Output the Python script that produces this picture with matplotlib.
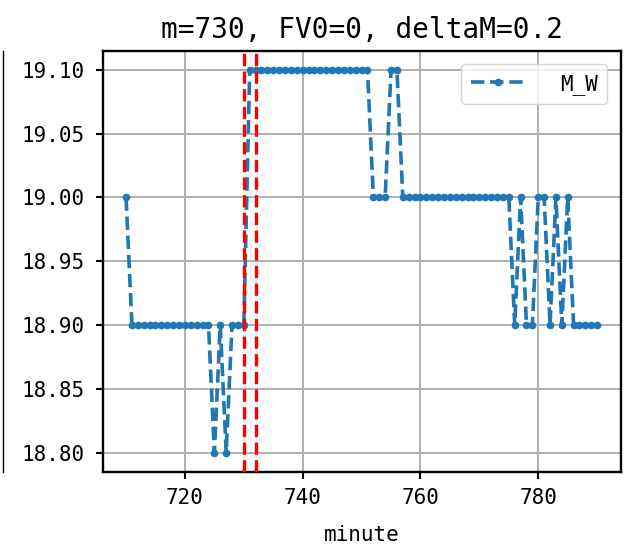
import matplotlib
matplotlib.use("Agg")
import matplotlib.pyplot as plt
from matplotlib.lines import Line2D

plt.rcParams['font.family'] = ['DejaVu Sans Mono', 'DejaVu Sans']

# ---- data ----
minute = list(range(710, 791))
m_w = [19.00,
       18.90, 18.90, 18.90, 18.90, 18.90, 18.90, 18.90, 18.90, 18.90, 18.90, 18.90, 18.90, 18.90, 18.90,
       18.80, 18.90, 18.80, 18.90, 18.90, 18.90,
       19.10, 19.10, 19.10, 19.10, 19.10, 19.10, 19.10, 19.10, 19.10, 19.10, 19.10,
       19.10, 19.10, 19.10, 19.10, 19.10, 19.10, 19.10, 19.10, 19.10, 19.10,
       19.00, 19.00, 19.00,
       19.10, 19.10,
       19.00, 19.00, 19.00, 19.00, 19.00, 19.00, 19.00, 19.00, 19.00, 19.00,
       19.00, 19.00, 19.00, 19.00, 19.00, 19.00, 19.00, 19.00, 19.00,
       18.90, 19.00, 18.90, 18.90, 19.00, 19.00, 18.90, 19.00, 18.90, 19.00,
       18.90, 18.90, 18.90, 18.90, 18.90]
vlines = [730, 732]
xticks = [720, 740, 760, 780]
yticks = [18.80, 18.85, 18.90, 18.95, 19.00, 19.05, 19.10]
ytick_labels = ["18.80", "18.85", "18.90", "18.95", "19.00", "19.05", "19.10"]
title = "m=730, FV0=0, deltaM=0.2"
xlabel = "minute"
series_label = "M_W"

# ---- figure ----
W, H = 627, 553
fig = plt.figure(figsize=(W / 100, H / 100), dpi=100)
left, right, top, bottom = 102.5, 620.7, 50.7, 471.7
ax = fig.add_axes([left / W, 1 - bottom / H, (right - left) / W, (bottom - top) / H])

ax.plot(minute, m_w, linestyle='--', marker='o', markersize=4.5,
        linewidth=2.6, color='#1f77b4', label=series_label, zorder=3)
for v in vlines:
    ax.axvline(v, color='red', linestyle='--', linewidth=2.4, zorder=4)

ax.set_xticks(xticks)
ax.set_yticks(yticks)
ax.set_yticklabels(ytick_labels)
ax.grid(True, color='#b0b0b0', linewidth=1.4)
ax.set_axisbelow(True)

ax.tick_params(axis='both', labelsize=15, length=5, width=1.5, color='black')
ax.tick_params(axis='y', pad=8)
ax.tick_params(axis='x', pad=7)
for s in ax.spines.values():
    s.set_linewidth(1.7)

ax.set_title(title, fontsize=20, pad=9)
ax.set_xlabel(xlabel, fontsize=15, labelpad=12)

ax.legend(loc='upper right', fontsize=15, handlelength=2.58, handletextpad=1.7,
          borderpad=0.45, borderaxespad=0.65)

# thin vertical line at the far left edge (part of the original canvas)
fig.add_artist(Line2D([3 / W, 3 / W], [1 - bottom / H, 1 - top / H],
                      transform=fig.transFigure, color='black', linewidth=1.0))

fig.savefig("out.png", dpi=100)
